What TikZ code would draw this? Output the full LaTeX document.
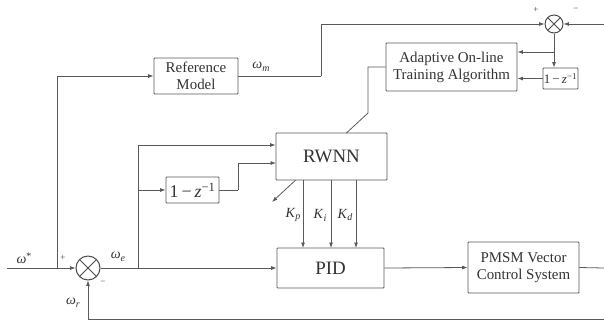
\documentclass[tikz,border=0pt]{standalone}
\usepackage{fontspec}
\setmainfont{Liberation Serif}
\usetikzlibrary{arrows.meta,backgrounds}

\tikzset{
  ln/.style={draw=black!65, line width=0.8pt},
  arr/.style={ln, -{Latex[length=5.5pt,width=4pt]}},
  blk/.style={draw=black!65, line width=0.8pt, fill=white, inner sep=0pt,
              rounded corners=0.8pt, text=black!80, align=center,
              font=\fontsize{15}{17}\selectfont},
  sumnode/.style={circle, draw=black!70, line width=1pt, fill=white,
              minimum size=#1, inner sep=0pt,
              path picture={\draw[black!70, line width=0.9pt]
                (path picture bounding box.north west) -- (path picture bounding box.south east)
                (path picture bounding box.north east) -- (path picture bounding box.south west);}},
  lbl/.style={text=black!80, inner sep=0pt, font=\fontsize{14}{16}\selectfont},
  sgn/.style={text=black!75, inner sep=0pt, font=\fontsize{9}{10}\selectfont}
}
\newcommand\omlab[1]{\textit{ω}\raisebox{-0.45ex}{\fontsize{10}{10}\selectfont\textit{#1}}}
\newcommand\klab[1]{\textit{K}\raisebox{-0.45ex}{\fontsize{10}{10}\selectfont\textit{#1}}}

\begin{document}
\begin{tikzpicture}[x=1bp, y=-1bp]
\useasboundingbox (0,0) rectangle (604,324);

% blocks
\node[blk, minimum width=84bp,  minimum height=36bp] (ref)   at (196,76)     {Reference\\Model};
\node[blk, minimum width=131bp, minimum height=48bp] (adapt) at (451.5,67)   {Adaptive On-line\\Training Algorithm};
\node[blk, minimum width=35bp,  minimum height=21bp, font=\fontsize{13}{13}\selectfont] (dzA) at (560.5,78.5) {1\,−\,\textit{z}\textsuperscript{−1}};
\node[blk, minimum width=111bp, minimum height=47bp, font=\fontsize{19}{19}\selectfont] (rwnn) at (331.5,156.5) {RWNN};
\node[blk, minimum width=53bp,  minimum height=26bp, font=\fontsize{18}{18}\selectfont] (dzB) at (192.5,190) {1\,−\,\textit{z}\textsuperscript{−1}};
\node[blk, minimum width=107bp, minimum height=40bp, font=\fontsize{19}{19}\selectfont] (pid) at (330.5,268) {PID};
\node[blk, minimum width=111bp, minimum height=51bp] (pmsm) at (523.5,267.5) {PMSM Vector\\Control System};

% summing junctions
\node[sumnode=24bp] (sumA) at (88,268) {};
\node[sumnode=18bp] (sumB) at (554,24) {};

% helper points
\coordinate (inA)   at (7,268);
\coordinate (brL)   at (57,268);
\coordinate (refUp) at (321,76);
\coordinate (inB)   at (604,24);
\coordinate (brT)   at (554,52);
\coordinate (brE)   at (138,268);
\coordinate (brE1)  at (138,145);
\coordinate (brE2)  at (138,190);
\coordinate (dzUp)  at (238,190);
\coordinate (rw2)   at (276,163);
\coordinate (outR)  at (604,268);
\coordinate (fbR)   at (604,319);
\coordinate (fbL)   at (88,319);
\coordinate (adK1)  at (368,67);
\coordinate (adK2)  at (368,113);
\coordinate (adTip) at (272,202);

% main path
\draw[arr] (inA) -- (sumA.west);
\draw[arr] (sumA.east) -- (pid.west);
\draw[arr] (pid.east) -- (pmsm.west);
\draw[ln]  (pmsm.east) -- (outR);
\draw[arr] (fbR) -- (fbL) -- (sumA.south);

% reference model branch
\draw[arr] (brL) |- (ref.west);
\draw[ln]  (ref.east) -- (refUp);
\draw[arr] (refUp) |- (sumB.west);
\draw[arr] (inB) -- (sumB.east);
\draw[arr] (sumB.south) -- (sumB.south |- dzA.north);
\draw[arr] (brT) -- (brT -| adapt.east);
\draw[arr] (dzA.west) -- (dzA.west -| adapt.east);

% RWNN inputs
\draw[arr] (brE) -- (brE1) -- (brE1 -| rwnn.west);
\draw[arr] (brE2) -- (dzB.west);
\draw[ln]  (dzB.east) -- (dzUp);
\draw[arr] (dzUp) |- (rw2);

% gains
\foreach \gx/\gn in {303/kp, 331/ki, 356/kd}
  \draw[arr] (\gx,180) -- (\gx,248);

% adaptation arrow passing behind the RWNN block
\begin{pgfonlayer}{background}
\draw[arr] (adapt.west |- adK1) -- (adK1) -- (adK2) -- (adTip);
\end{pgfonlayer}

% labels
\node[lbl] (lwm) at (261,67)  {\omlab{m}};
\node[lbl] (lws) at (24,258)  {\textit{ω}\raisebox{0.6ex}{\fontsize{10}{10}\selectfont *}};
\node[lbl] (lwe) at (118,257) {\omlab{e}};
\node[lbl] (lwr) at (73,303)  {\omlab{r}};
\node[lbl] (lkp) at (293,215) {\klab{p}};
\node[lbl] (lki) at (320,215) {\klab{i}};
\node[lbl] (lkd) at (345,215) {\klab{d}};
\node[sgn] (spA) at (63,258)  {+};
\node[sgn] (smA) at (103,283) {−};
\node[sgn] (spB) at (536,10)  {+};
\node[sgn] (smB) at (576,10)  {−};
\end{tikzpicture}
\end{document}
